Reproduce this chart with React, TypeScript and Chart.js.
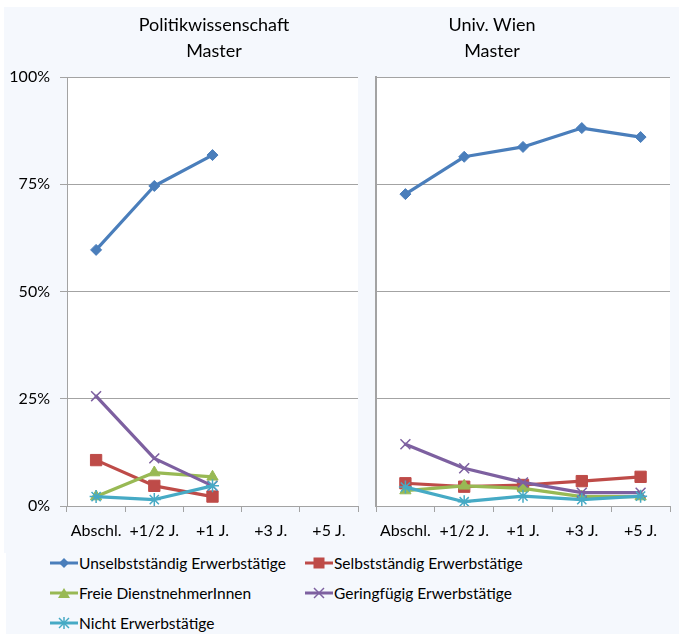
import React, { useEffect, useRef } from "react";
import { Chart, registerables } from "chart.js";
Chart.register(...registerables);

const categories = ["Abschl.", "+1/2 J.", "+1 J.", "+3 J.", "+5 J."];
const seriesNames = [
  "Unselbstständig Erwerbstätige",
  "Selbstständig Erwerbstätige",
  "Freie DienstnehmerInnen",
  "Geringfügig Erwerbstätige",
  "Nicht Erwerbstätige",
];
const panelTitles = [["Politikwissenschaft", "Master"], ["Univ. Wien", "Master"]];
const yTickValues = [0, 25, 50, 75, 100];

// Left panel: Politikwissenschaft Master (%)
const unselbstLeft = [59.7, 74.6, 81.8, null, null];
const selbstLeft = [10.7, 4.7, 2.2, null, null];
const freieLeft = [2.2, 7.8, 6.8, null, null];
const geringLeft = [25.6, 11.1, 4.7, null, null];
const nichtLeft = [2.2, 1.5, 4.7, null, null];

// Right panel: Univ. Wien Master (%)
const unselbstRight = [72.7, 81.4, 83.7, 88.1, 86.0];
const selbstRight = [5.3, 4.5, 4.9, 5.8, 6.8];
const freieRight = [3.6, 4.7, 4.1, 2.2, 2.2];
const geringRight = [14.4, 8.8, 5.5, 3.1, 3.1];
const nichtRight = [4.4, 1.0, 2.3, 1.5, 2.3];

const colors = ["#4A7EBB", "#BE4B48", "#98B954", "#7D60A0", "#46AAC5"];
const pointStyles = ["rectRot", "rect", "triangle", "crossRot", "star"];
const pointRadii = [5.5, 8, 6.5, 7, 6.5];
const pointBorders = [1, 1, 1, 1.5, 1.5];

const FONT = "Lato, 'Open Sans', sans-serif";
const GRID = "#A3A3A3";
const BG = "#F5F8FD";

const whiteArea = {
  id: "whiteArea",
  beforeDraw(chart: any) {
    const { ctx, chartArea } = chart;
    ctx.save();
    ctx.fillStyle = "#FFFFFF";
    ctx.fillRect(chartArea.left, chartArea.top, chartArea.right - chartArea.left, chartArea.bottom - chartArea.top);
    ctx.restore();
  },
};

function makeConfig(series: (number | null)[][], showY: boolean, padRight: number, yWidth: number): any {
  return {
    type: "line",
    data: {
      labels: categories,
      datasets: series.map((d, i) => ({
        label: seriesNames[i],
        data: d,
        borderColor: colors[i],
        backgroundColor: colors[i],
        pointBackgroundColor: colors[i],
        pointBorderColor: colors[i],
        pointStyle: pointStyles[i],
        pointRadius: pointRadii[i],
        pointBorderWidth: pointBorders[i],
        borderWidth: 3.2,
        borderJoinStyle: "round",
        borderCapStyle: "round",
        tension: 0,
        spanGaps: false,
        order: 4 - i,
      })),
    },
    options: {
      responsive: false,
      animation: false,
      devicePixelRatio: 1,
      layout: { padding: { top: 77, right: padRight, left: 0, bottom: 0 } },
      plugins: { legend: { display: false }, tooltip: { enabled: false }, title: { display: false } },
      scales: {
        x: {
          type: "category",
          offset: true,
          grid: { offset: true, drawOnChartArea: false, drawTicks: true, tickLength: 6, color: GRID },
          border: { display: false },
          ticks: { font: { family: FONT, size: 16 }, color: "#000", padding: 9, maxRotation: 0, autoSkip: false },
          afterFit: (s: any) => { s.height = 39; },
        },
        y: {
          min: 0,
          max: 100,
          afterBuildTicks: (s: any) => { s.ticks = yTickValues.map((v) => ({ value: v })); },
          grid: { color: GRID, drawTicks: showY, tickLength: 7 },
          border: { display: true, color: GRID, width: showY ? 1 : 2 },
          ticks: {
            display: showY,
            font: { family: FONT, size: 16 },
            color: "#000",
            padding: 10,
            callback: (v: any) => v + "%",
          },
          afterFit: (s: any) => { s.width = yWidth; },
        },
      },
    },
    plugins: [whiteArea],
  };
}

function LegendMarker({ i }: { i: number }) {
  const c = colors[i];
  const cx = 14, cy = 7;
  let m: any = null;
  if (i === 0) m = <polygon points={`${cx - 5},${cy} ${cx},${cy - 5} ${cx + 5},${cy} ${cx},${cy + 5}`} fill={c} />;
  if (i === 1) m = <rect x={cx - 5.5} y={cy - 5.5} width={11} height={11} fill={c} />;
  if (i === 2) m = <polygon points={`${cx - 6},${cy + 5} ${cx},${cy - 5} ${cx + 6},${cy + 5}`} fill={c} />;
  if (i === 3)
    m = (
      <g stroke={c} strokeWidth={1.5}>
        <line x1={cx - 5} y1={cy - 5} x2={cx + 5} y2={cy + 5} />
        <line x1={cx - 5} y1={cy + 5} x2={cx + 5} y2={cy - 5} />
      </g>
    );
  if (i === 4)
    m = (
      <g stroke={c} strokeWidth={1.5}>
        <line x1={cx - 5} y1={cy - 5} x2={cx + 5} y2={cy + 5} />
        <line x1={cx - 5} y1={cy + 5} x2={cx + 5} y2={cy - 5} />
        <line x1={cx} y1={cy - 6} x2={cx} y2={cy + 6} />
      </g>
    );
  return (
    <svg width={28} height={14} style={{ display: "block" }}>
      <line x1={0} y1={cy} x2={28} y2={cy} stroke={c} strokeWidth={3} />
      {m}
    </svg>
  );
}

function Panel({ series, showY, left, width, padRight, yWidth }: any) {
  const ref = useRef<HTMLCanvasElement>(null);
  useEffect(() => {
    const chart = new Chart(ref.current as HTMLCanvasElement, makeConfig(series, showY, padRight, yWidth));
    return () => chart.destroy();
  }, []);
  return (
    <canvas
      ref={ref}
      width={width}
      height={545}
      style={{ position: "absolute", left, top: 0, width, height: 545 }}
    />
  );
}

export default function App() {
  const legendPos = [
    [50, 563], [305, 563], [50, 593], [305, 593], [50, 623],
  ];
  return (
    <div style={{ position: "fixed", left: 0, top: 0, width: 679, height: 634, background: "#FFFFFF", overflow: "hidden", fontFamily: FONT }}>
      <div style={{ position: "absolute", left: 4, top: 7, width: 675, height: 546, background: BG }} />
      <div style={{ position: "absolute", left: 6, top: 553, width: 673, height: 81, background: BG }} />
      <Panel series={[unselbstLeft, selbstLeft, freieLeft, geringLeft, nichtLeft]} showY={true} left={0} width={367} padRight={1} yWidth={67} />
      <Panel series={[unselbstRight, selbstRight, freieRight, geringRight, nichtRight]} showY={false} left={367} width={312} padRight={0} yWidth={5} />
      {panelTitles.map((t, k) => (
        <div
          key={k}
          style={{
            position: "absolute",
            left: (k === 0 ? 214 : 492) - 150,
            top: 11,
            width: 300,
            textAlign: "center",
            fontSize: 18,
            lineHeight: "26px",
            color: "#000",
          }}
        >
          {t[0]}
          <br />
          {t[1]}
        </div>
      ))}
      {seriesNames.map((n, i) => (
        <div
          key={n}
          style={{
            position: "absolute",
            left: legendPos[i][0],
            top: legendPos[i][1] - 10,
            height: 20,
            display: "flex",
            alignItems: "center",
            fontSize: 15.5,
            color: "#000",
            whiteSpace: "nowrap",
          }}
        >
          <LegendMarker i={i} />
          <span style={{ marginLeft: 1 }}>{n}</span>
        </div>
      ))}
    </div>
  );
}
